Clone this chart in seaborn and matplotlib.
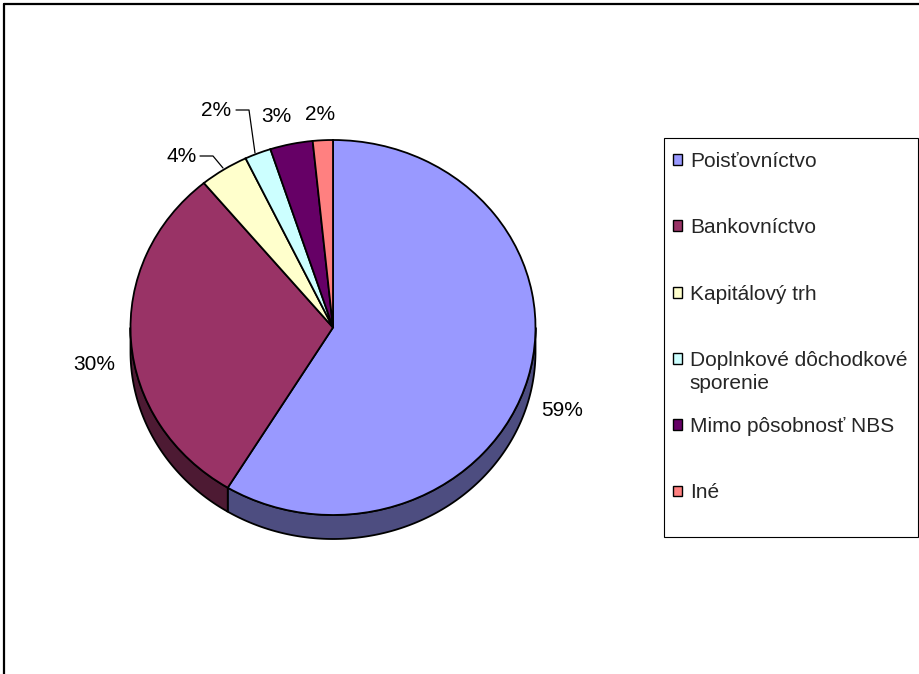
import matplotlib
matplotlib.use("Agg")
import matplotlib.pyplot as plt
import seaborn as sns
import numpy as np
from matplotlib.patches import Patch, Rectangle
from matplotlib.lines import Line2D

# ---------------- data ----------------
categories = ["Poisťovníctvo", "Bankovníctvo", "Kapitálový trh",
              "Doplnkové dôchodkové\nsporenie", "Mimo pôsobnosť NBS", "Iné"]
shares = [58.7, 30.3, 3.9, 2.1, 3.4, 1.6]
pct_labels = ["59%", "30%", "4%", "2%", "3%", "2%"]
top_colors = ["#9999FF", "#993366", "#FFFFCC", "#CCFFFF", "#660066", "#FF8080"]
side_colors = ["#4D4D80", "#4D1A33", "#80806A", "#6A8080", "#330033", "#804040"]

# ---------------- style ----------------
sns.set_style("white")
plt.rcParams["font.family"] = ["Liberation Sans", "DejaVu Sans"]
FS = 15

W, H = 920, 674
fig = plt.figure(figsize=(W / 100, H / 100), dpi=100)
ax = fig.add_axes([0, 0, 1, 1])

# ellipse geometry (pixels)
cx, cy, rx, ry, depth_px = 333, 327.5, 202.5, 187.5, 24

palette = sns.color_palette(top_colors)
wedges, _ = ax.pie(shares, colors=palette, startangle=90, counterclock=False,
                   wedgeprops=dict(edgecolor="black", linewidth=1.3), radius=1)
ax.set_aspect("auto")
ax.set_xlim(-cx / rx, (W - cx) / rx)
ax.set_ylim(-(H - cy) / ry, cy / ry)
ax.axis("off")


def px(x, y):
    """pixel (from top-left) -> data coords"""
    return (x - cx) / rx, (cy - y) / ry


# 3D side walls for the front half of the pie
d = depth_px / ry
for w, sc in zip(wedges, side_colors):
    t1, t2 = w.theta1, w.theta2
    for lo, hi in [(-540, -360), (-180, 0), (180, 360)]:
        a, b = max(t1, lo), min(t2, hi)
        if b - a <= 0:
            continue
        t = np.radians(np.linspace(a, b, 200))
        xs = np.concatenate([np.cos(t), np.cos(t[::-1])])
        ys = np.concatenate([np.sin(t), np.sin(t[::-1]) - d])
        ax.fill(xs, ys, facecolor=sc, edgecolor="black", linewidth=1.3, zorder=0.5)

# percentage labels
label_px = [(562, 410), (94, 365), (182, 157), (216, 111), (276, 117), (320, 114)]
for (lx, ly), lab in zip(label_px, pct_labels):
    x, y = px(lx, ly)
    ax.text(x, y, lab, ha="center", va="center", fontsize=FS, color="black")

# leader lines
for pts in [[(200, 156), (213, 156), (223, 168)],
            [(236, 110), (249, 110), (255, 153)]]:
    xy = np.array([px(*p) for p in pts])
    ax.plot(xy[:, 0], xy[:, 1], color="black", linewidth=0.9)

# legend
handles = [Patch(facecolor=c, edgecolor="black", linewidth=1.0) for c in palette]
leg_labels = [c.split("\n")[0] for c in categories]
leg = fig.legend(handles, leg_labels, loc="upper left",
                 bbox_to_anchor=(673 / W, 1 - 152 / H), frameon=False,
                 fontsize=FS, handlelength=0.43, handleheight=0.43,
                 handletextpad=0.38, labelspacing=2.27, borderpad=0,
                 borderaxespad=0)

fig.canvas.draw()
for txt, cat in zip(leg.get_texts(), categories):
    parts = cat.split("\n")
    if len(parts) > 1:
        bb = txt.get_window_extent()
        fig.text(bb.x0 / W, ((bb.y0 + bb.y1) / 2 - 23) / H, parts[1],
                 ha="left", va="center", fontsize=FS)

fig.patches.append(Rectangle((664 / W, 1 - 537 / H), (918 - 664) / W, (537 - 138) / H,
                             transform=fig.transFigure, fill=False,
                             edgecolor="black", linewidth=0.8))

# outer chart frame (top and left edges visible)
fig.lines.append(Line2D([4 / W, 1], [1 - 4 / H, 1 - 4 / H], transform=fig.transFigure,
                        color="black", linewidth=1.6))
fig.lines.append(Line2D([4 / W, 4 / W], [0, 1 - 4 / H], transform=fig.transFigure,
                        color="black", linewidth=1.6))

fig.savefig("out.png", dpi=100)
